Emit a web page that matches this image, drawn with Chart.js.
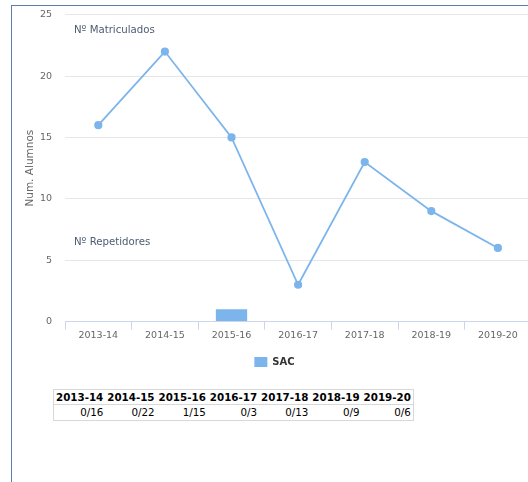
<!DOCTYPE html>
<html>
<head>
<meta charset="utf-8">
<script src="https://cdn.jsdelivr.net/npm/chart.js@4.4.1/dist/chart.umd.min.js"></script>
<style>
  html, body { margin: 0; padding: 0; background: #fff; }
  body { width: 528px; height: 482px; overflow: hidden; position: relative; font-family: "DejaVu Sans", sans-serif; }
  #box { position: absolute; left: 11px; top: 5px; width: 517px; height: 477px;
         border-left: 1px solid #5a7ea8; border-top: 1px solid #5a7ea8; box-sizing: border-box; }
  #wrap { position: absolute; left: 0; top: -10px; width: 525px; height: 381px; }
  #tabla { position: absolute; left: 41px; top: 383px; border-collapse: collapse; border: 1px solid #d8d8d8; font-size: 10.3px; }
  #tabla th { font-weight: bold; padding: 0 2px; color: #000; line-height: 14px; border-bottom: 1px solid #d8d8d8; }
  #tabla td { text-align: right; padding: 0 2px; color: #000; line-height: 15px; }
</style>
</head>
<body>
<div id="box">
  <div id="wrap"><canvas id="grafico"></canvas></div>
  <table id="tabla"><thead><tr id="cab"></tr></thead><tbody><tr id="fila"></tr></tbody></table>
</div>
<script>
  // Datos del gráfico
  const cursos = ["2013-14", "2014-15", "2015-16", "2016-17", "2017-18", "2018-19", "2019-20"];
  const matriculados = [16, 22, 15, 3, 13, 9, 6];
  const repetidores = [0, 0, 1, 0, 0, 0, 0];
  const yTicks = [0, 5, 10, 15, 20, 25];

  // Tabla repetidores / matriculados
  const cab = document.getElementById("cab");
  const fila = document.getElementById("fila");
  cursos.forEach((c, i) => {
    const th = document.createElement("th");
    th.textContent = c;
    cab.appendChild(th);
    const td = document.createElement("td");
    td.textContent = repetidores[i] + "/" + matriculados[i];
    fila.appendChild(td);
  });

  const azul = "#7cb5ec";

  // Etiquetas dentro del área del gráfico
  const etiquetas = {
    id: "etiquetas",
    afterDraw(chart) {
      const { ctx, chartArea } = chart;
      ctx.save();
      ctx.font = "10.2px 'DejaVu Sans'";
      ctx.fillStyle = "#4d5d70";
      ctx.textBaseline = "middle";
      ctx.fillText("Nº Matriculados", chartArea.left + 9, chartArea.top + 16);
      ctx.fillText("Nº Repetidores", chartArea.left + 9, chartArea.top + 228);
      ctx.restore();
    }
  };

  new Chart(document.getElementById("grafico"), {
    type: "bar",
    data: {
      labels: cursos,
      datasets: [
        {
          type: "line",
          label: "Matriculados",
          data: matriculados,
          borderColor: azul,
          backgroundColor: azul,
          borderWidth: 1.8,
          pointRadius: 3.2,
          pointHoverRadius: 4,
          tension: 0,
          order: 0
        },
        {
          label: "SAC",
          data: repetidores,
          backgroundColor: azul,
          categoryPercentage: 1,
          barPercentage: 0.47,
          order: 1
        }
      ]
    },
    options: {
      responsive: true,
      maintainAspectRatio: false,
      animation: false,
      layout: { padding: 0 },
      plugins: {
        tooltip: { enabled: false },
        legend: {
          position: "bottom",
          labels: {
            filter: item => item.text === "SAC",
            color: "#333",
            font: { family: "DejaVu Sans", size: 10, weight: "bold" },
            boxWidth: 13,
            boxHeight: 10,
            padding: 16
          }
        }
      },
      scales: {
        x: {
          offset: true,
          grid: { offset: true, drawOnChartArea: false, drawTicks: true, tickLength: 8, color: "#ccd6eb" },
          border: { color: "#ccd6eb" },
          ticks: { color: "#666", font: { family: "DejaVu Sans", size: 9.5 }, padding: 0, maxRotation: 0 }
        },
        y: {
          min: 0,
          max: 25,
          afterBuildTicks: axis => { axis.ticks = yTicks.map(v => ({ value: v })); },
          afterFit: axis => { axis.width = 53; },
          grid: { color: "#e6e6e6", drawTicks: false },
          border: { display: false },
          ticks: { color: "#666", font: { family: "DejaVu Sans", size: 9.5 }, padding: 13 },
          title: { display: true, text: "Num. Alumnos", color: "#666", font: { family: "DejaVu Sans", size: 10.5 }, padding: { top: 12, bottom: 0 } }
        }
      }
    },
    plugins: [etiquetas]
  });
</script>
</body>
</html>
